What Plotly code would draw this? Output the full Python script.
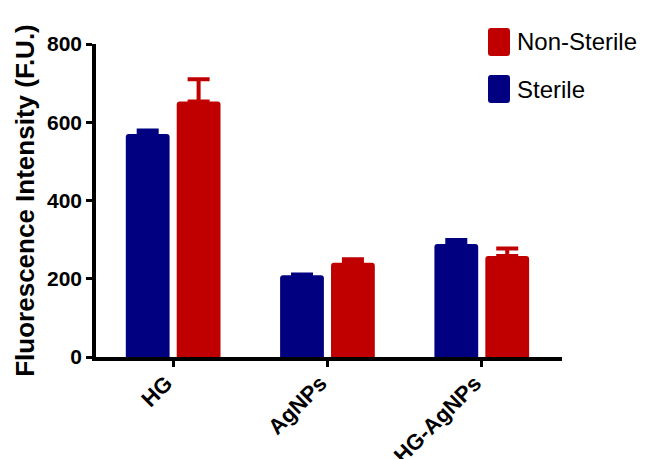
import plotly.graph_objects as go

categories = ["HG", "AgNPs", "HG-AgNPs"]
sterile = [570, 209, 289]
sterile_err = [9, 2, 10]
non_sterile = [653, 241, 258]
non_sterile_err = [57, 9, 19]
series_names = ["Sterile", "Non-Sterile"]
colors = ["#000080", "#C00000"]
y_ticks = [0, 200, 400, 600, 800]

FONT = "Arial, Liberation Sans, sans-serif"

fig = go.Figure()
for name, vals, errs, col in [
    (series_names[0], sterile, sterile_err, colors[0]),
    (series_names[1], non_sterile, non_sterile_err, colors[1]),
]:
    fig.add_trace(go.Bar(
        x=categories, y=vals, name=name,
        marker=dict(color=col, line=dict(width=0), cornerradius=3),
        error_y=dict(type="data", symmetric=False, array=errs,
                     arrayminus=[0] * len(errs), color=col,
                     thickness=4, width=11),
        showlegend=False,
    ))

# the page body has an 8px margin, so the figure is sized/offset to compensate
OFF = 8
W, H = 645 - OFF, 459 - OFF
# target plot area in window pixels: x 96..562, y 44..357
L, T = 96 - OFF, 44 - OFF
R = W - (562 - OFF)
B = H - (357 - OFF)
PW, PH = W - L - R, H - T - B

fig.update_layout(
    width=W, height=H,
    margin=dict(l=L, r=R, t=T, b=B, autoexpand=False),
    paper_bgcolor="white", plot_bgcolor="white",
    barmode="group", bargap=0.34, bargroupgap=0.14,
    font=dict(family=FONT, color="black"),
)
fig.update_xaxes(
    range=[-0.5, 2.52], showline=True, linewidth=3.5, linecolor="black",
    ticks="outside", ticklen=6, tickwidth=3, tickcolor="black",
    tickangle=-45, tickfont=dict(size=22, family=FONT, weight="bold"),
    ticklabelshift=-7, ticklabelstandoff=-5,
    showgrid=False, zeroline=False, automargin=False,
)
fig.update_yaxes(
    range=[0, 800], tickvals=y_ticks, showline=True, linewidth=3.5,
    linecolor="black", ticks="outside", ticklen=6, tickwidth=3,
    tickcolor="black", tickfont=dict(size=21, family=FONT, weight="bold"),
    showgrid=False, zeroline=False, automargin=False,
    title=dict(text="Fluorescence Intensity (F.U.)",
               font=dict(size=26, family=FONT, weight="bold"), standoff=6),
)


# legend drawn manually (Non-Sterile on top, Sterile below); window pixels
def px_x(x):
    return (x - OFF - L) / PW


def px_y(y):
    return 1 - (y - OFF - T) / PH


def rounded_rect(x0, y0, x1, y1, r):
    X = lambda v: px_x(v)
    Y = lambda v: px_y(v)
    return (f"M {X(x0 + r)},{Y(y0)} L {X(x1 - r)},{Y(y0)} "
            f"Q {X(x1)},{Y(y0)} {X(x1)},{Y(y0 + r)} "
            f"L {X(x1)},{Y(y1 - r)} Q {X(x1)},{Y(y1)} {X(x1 - r)},{Y(y1)} "
            f"L {X(x0 + r)},{Y(y1)} Q {X(x0)},{Y(y1)} {X(x0)},{Y(y1 - r)} "
            f"L {X(x0)},{Y(y0 + r)} Q {X(x0)},{Y(y0)} {X(x0 + r)},{Y(y0)} Z")


leg = [(series_names[1], colors[1], 42), (series_names[0], colors[0], 89)]
for name, col, yc in leg:
    fig.add_shape(type="path", xref="paper", yref="paper",
                  path=rounded_rect(488, yc - 14, 510, yc + 14, 3),
                  fillcolor=col, line=dict(width=0))
    fig.add_annotation(xref="paper", yref="paper", x=px_x(515),
                       y=px_y(yc), text=name, showarrow=False,
                       xanchor="left", yanchor="middle",
                       font=dict(size=24, family=FONT, color="black"))

fig.write_html("out.html")
